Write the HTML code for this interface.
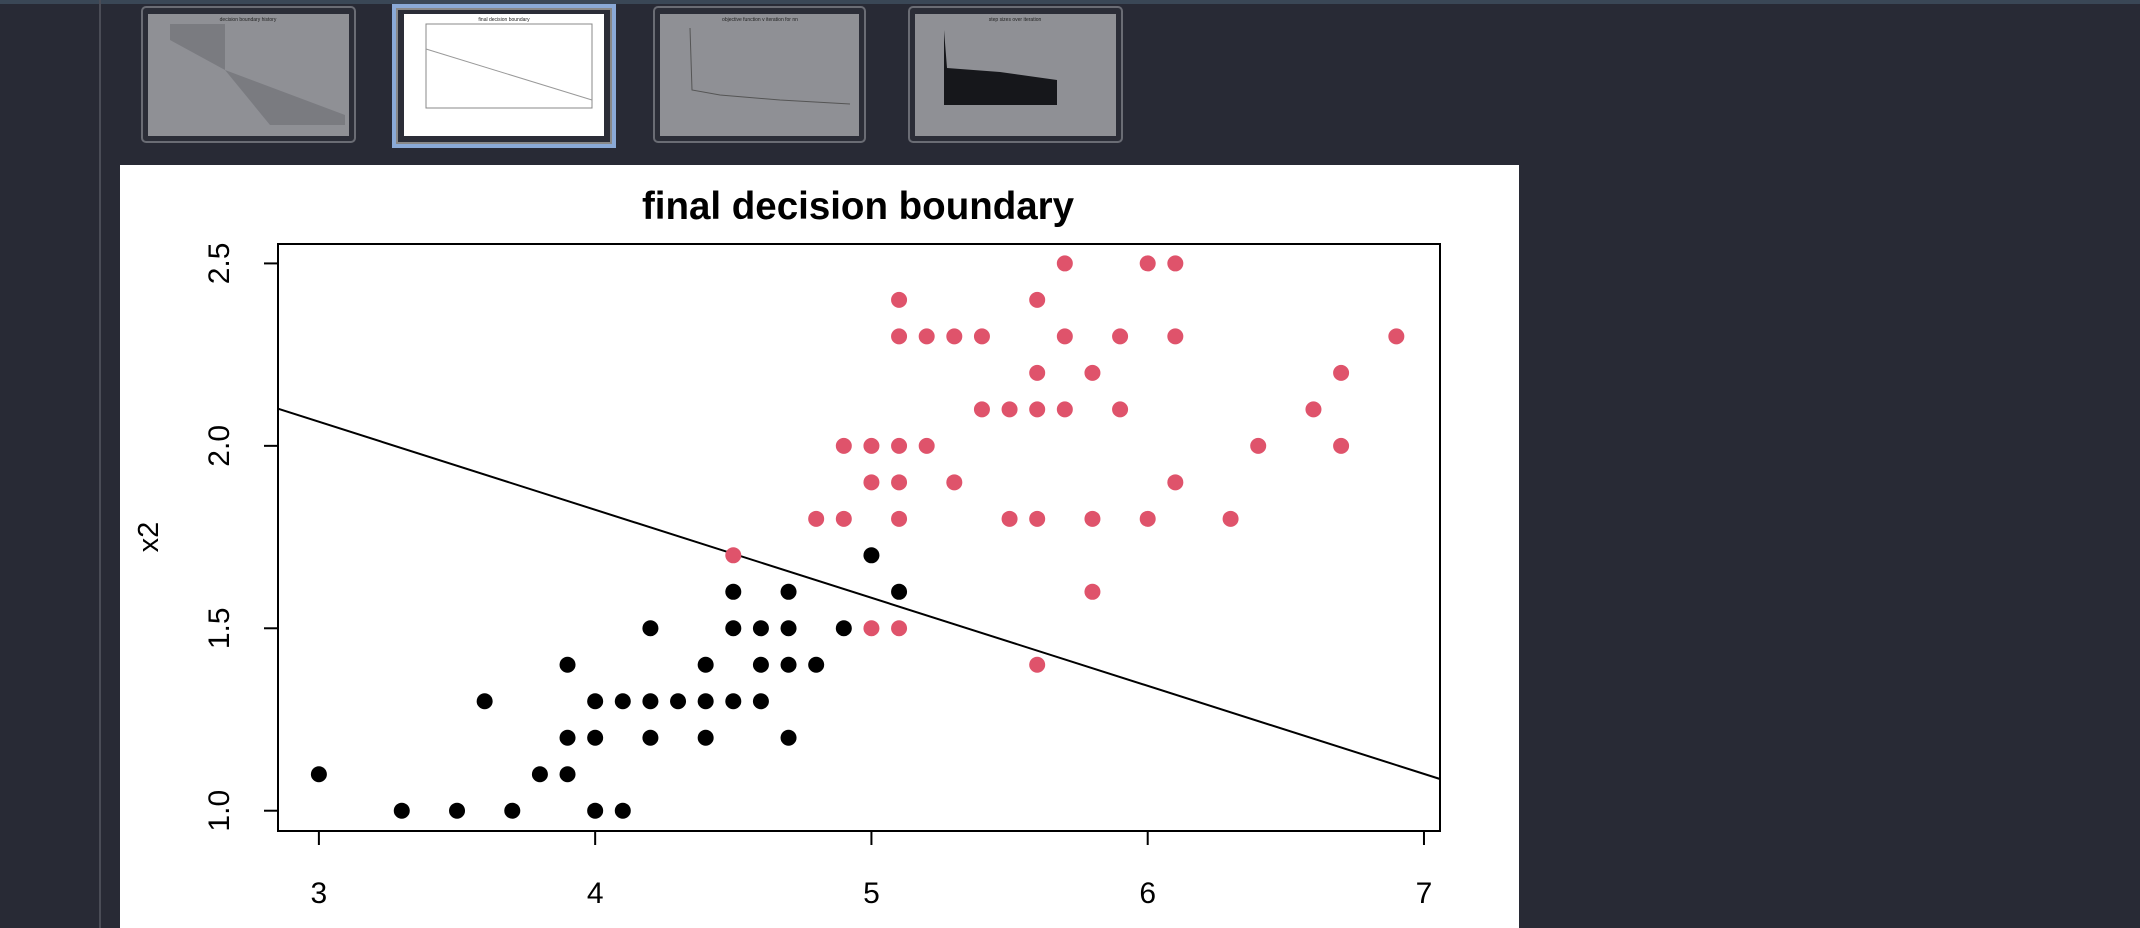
<!DOCTYPE html>
<html><head><meta charset="utf-8"><style>
html,body{margin:0;padding:0;background:#282a35;width:2140px;height:928px;overflow:hidden;font-family:"Liberation Sans",Arial,sans-serif}
svg{display:block}
</style></head><body>
<svg id="root" width="2140" height="928" xmlns="http://www.w3.org/2000/svg">
<rect x="0" y="0" width="2140" height="928" fill="#282a35"/>
<rect x="0" y="0" width="2140" height="4" fill="#3a4756"/>
<rect x="99" y="0" width="2" height="928" fill="#4a4c56"/>
<g>
<rect x="142" y="7" width="213" height="135" rx="4" fill="#2b2d37" stroke="#6a6c74" stroke-width="2"/>
<rect x="148" y="14" width="201" height="122" fill="#8f9095"/>
<polygon points="170,24 225,24 225,70 170,40" fill="#7a7b80"/>
<polygon points="225,70 345,115 345,125 270,125" fill="#7a7b80"/>
<text x="248" y="21" font-size="5" text-anchor="middle" fill="#222">decision boundary history</text>
</g>
<g>
<rect x="392" y="4" width="224" height="144" fill="#8aa9d6"/>
<rect x="397" y="9" width="214" height="134" fill="#2b2d37" stroke="#888" stroke-width="2"/>
<rect x="404" y="14" width="200" height="122" fill="#fff"/>
<text x="504" y="21" font-size="5" text-anchor="middle" fill="#222">final decision boundary</text>
<rect x="426" y="24" width="166" height="84" fill="none" stroke="#888" stroke-width="1"/>
<line x1="426" y1="49" x2="592" y2="100" stroke="#999" stroke-width="1"/>
</g>
<g>
<rect x="654" y="7" width="211" height="135" rx="4" fill="#2b2d37" stroke="#6a6c74" stroke-width="2"/>
<rect x="660" y="14" width="199" height="122" fill="#8f9095"/>
<text x="760" y="21" font-size="5" text-anchor="middle" fill="#222">objective function v iteration for nn</text>
<polyline points="690,28 692,90 720,95 780,100 850,104" fill="none" stroke="#555" stroke-width="1"/>
</g>
<g>
<rect x="909" y="7" width="213" height="135" rx="4" fill="#2b2d37" stroke="#6a6c74" stroke-width="2"/>
<rect x="915" y="14" width="201" height="122" fill="#8f9095"/>
<text x="1015" y="21" font-size="5" text-anchor="middle" fill="#222">step sizes over iteration</text>
<polygon points="944,105 944,30 947,68 1000,72 1057,80 1057,105" fill="#16171b"/>
</g>
<rect x="120" y="165" width="1399" height="763" fill="#ffffff"/>
<text x="858" y="219" font-size="38.5" font-weight="bold" text-anchor="middle" fill="#000">final decision boundary</text>
<text transform="translate(158,537) rotate(-90)" font-size="29" text-anchor="middle" fill="#000">x2</text>
<g id="plot"></g>
</svg>
<script>
const blackX=[3,3.3,3.5,3.7,3.6,3.8,3.9,3.9,3.9,4.0,4.1,4.0,4.0,4.1,4.2,4.2,4.2,4.3,4.4,4.4,4.4,4.5,4.5,4.5,4.6,4.6,4.6,4.7,4.7,4.7,4.7,4.8,4.9,5.0,5.1];
const blackY=[1.1,1.0,1.0,1.0,1.3,1.1,1.1,1.2,1.4,1.0,1.0,1.2,1.3,1.3,1.3,1.2,1.5,1.3,1.3,1.2,1.4,1.3,1.5,1.6,1.3,1.4,1.5,1.2,1.4,1.5,1.6,1.4,1.5,1.7,1.6];
const redX=[4.5,4.8,4.9,4.9,5.0,5.0,5.0,5.1,5.1,5.1,5.1,5.1,5.1,5.2,5.2,5.3,5.3,5.4,5.4,5.5,5.5,5.6,5.6,5.6,5.6,5.6,5.7,5.7,5.7,5.8,5.8,5.8,5.9,5.9,6.0,6.0,6.1,6.1,6.1,6.3,6.4,6.6,6.7,6.7,6.9];
const redY=[1.7,1.8,1.8,2.0,2.0,1.9,1.5,1.5,1.8,1.9,2.0,2.3,2.4,2.0,2.3,1.9,2.3,2.1,2.3,1.8,2.1,1.4,1.8,2.1,2.2,2.4,2.1,2.3,2.5,1.6,1.8,2.2,2.1,2.3,1.8,2.5,1.9,2.3,2.5,1.8,2.0,2.1,2.0,2.2,2.3];
const xTicks=[3,4,5,6,7];
const yTicks=[1.0,1.5,2.0,2.5];
const lineIntercept=2.79, lineSlope=-0.2413;
const X0=278,X1=1440,Y0=244,Y1=831;
const xmin=2.852,xmax=7.058,ymin=0.9444,ymax=2.5532;
const sx=v=>X0+(v-xmin)/(xmax-xmin)*(X1-X0);
const sy=v=>Y1-(v-ymin)/(ymax-ymin)*(Y1-Y0);
const NS='http://www.w3.org/2000/svg';
const g=document.getElementById('plot');
function mk(t,a){const e=document.createElementNS(NS,t);for(const k in a)e.setAttribute(k,a[k]);g.appendChild(e);return e;}
const box=mk('rect',{x:X0,y:Y0,width:X1-X0,height:Y1-Y0,fill:'none',stroke:'#000','stroke-width':2});


xTicks.forEach(v=>{
 const t=mk('line',{x1:sx(v),x2:sx(v),y1:Y1,y2:Y1+14,stroke:'#000','stroke-width':2});
 
 
 const l=mk('text',{x:sx(v),y:903,'font-size':30,'text-anchor':'middle',fill:'#000'});
 l.textContent=String(v);
 
 
});
yTicks.forEach(v=>{
 const t=mk('line',{x1:X0-14,x2:X0,y1:sy(v),y2:sy(v),stroke:'#000','stroke-width':2});
 
 
 const l=mk('text',{transform:`translate(229,${sy(v)}) rotate(-90)`,'font-size':30,'text-anchor':'middle',fill:'#000'});
 l.textContent=v.toFixed(1);
 
 
});
const ln=mk('line',{x1:sx(xmin),y1:sy(lineIntercept+lineSlope*xmin),x2:sx(xmax),y2:sy(lineIntercept+lineSlope*xmax),stroke:'#000','stroke-width':2});


blackX.forEach((x,i)=>{
 const c=mk('circle',{cx:sx(x),cy:sy(blackY[i]),r:8,fill:'#000'});
 
 
});
redX.forEach((x,i)=>{
 const c=mk('circle',{cx:sx(x),cy:sy(redY[i]),r:8,fill:'#df536b'});
 
 
});
</script>
</body></html>
